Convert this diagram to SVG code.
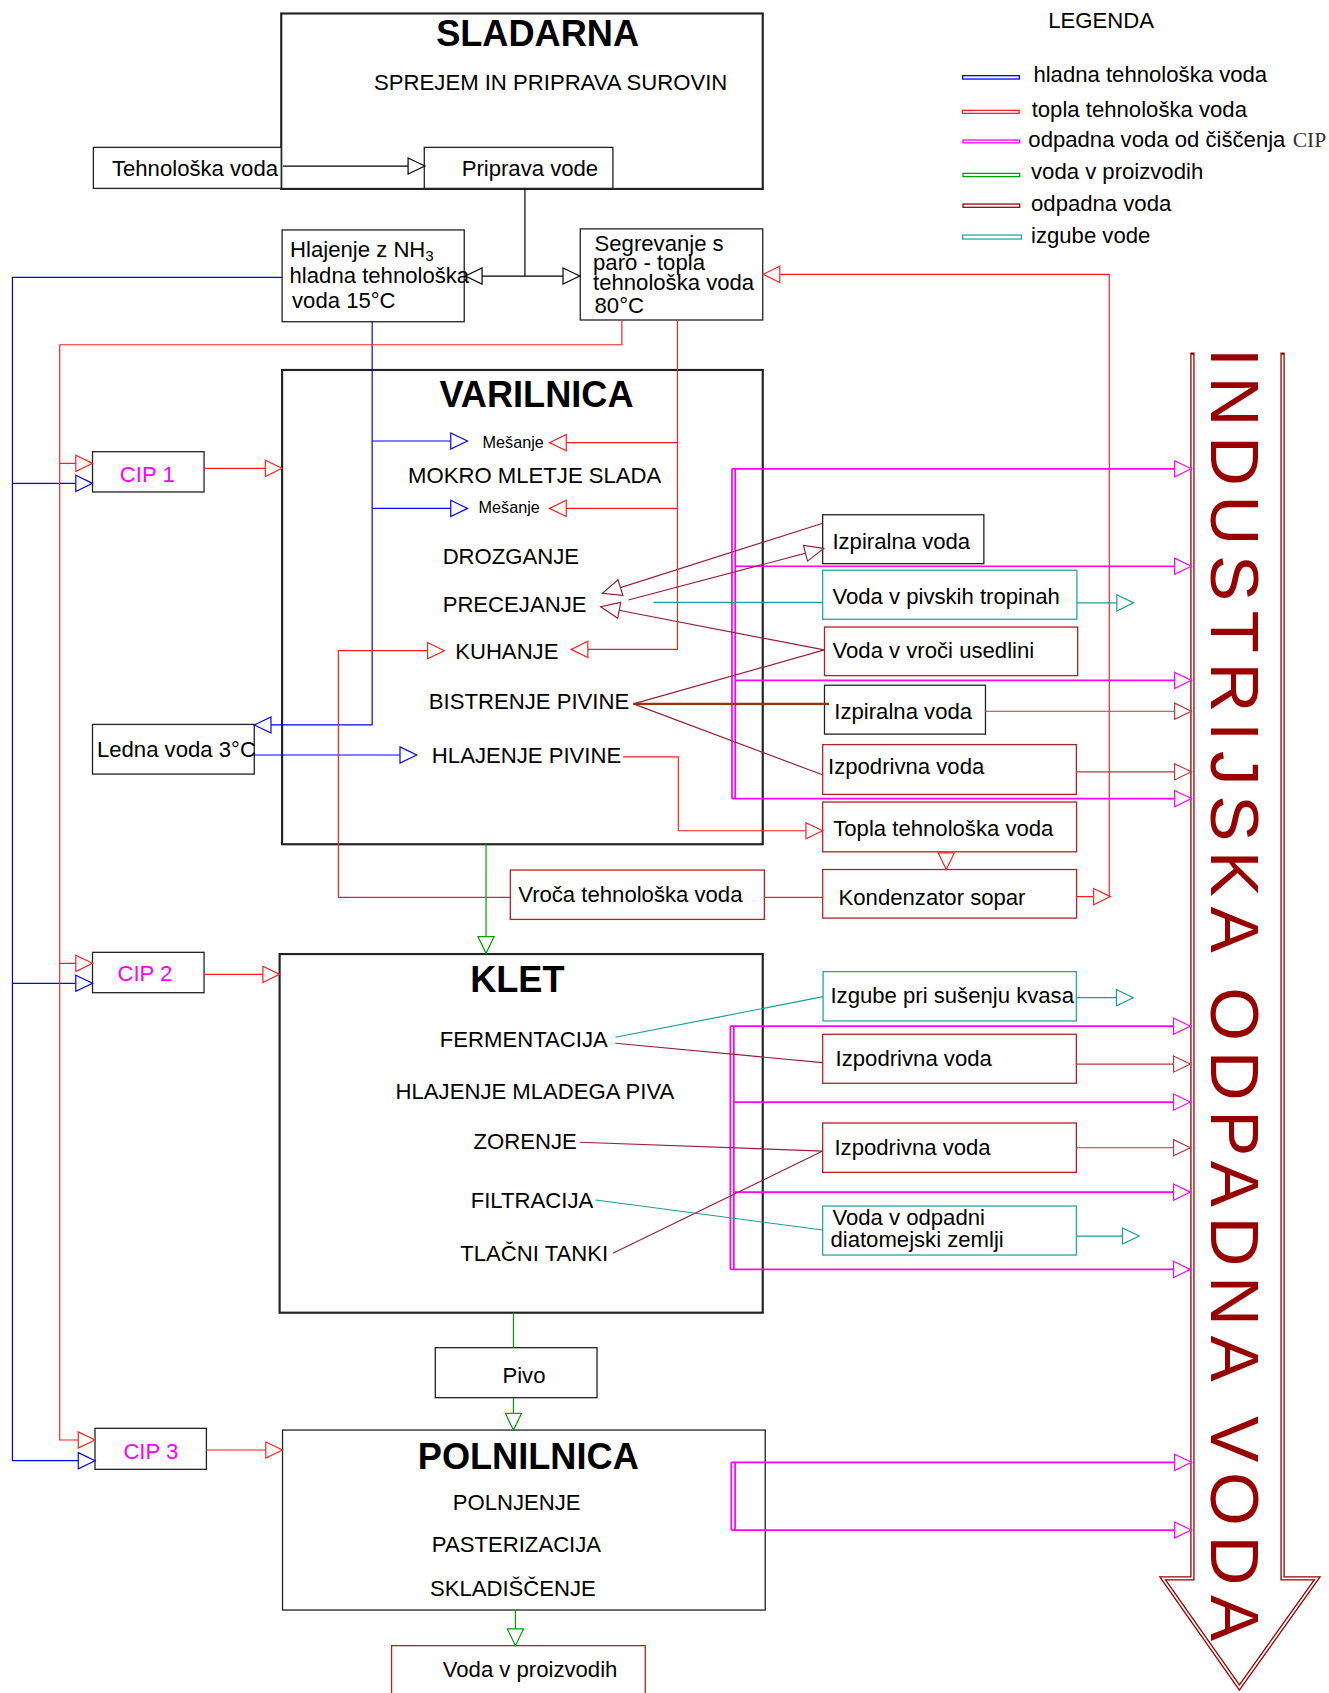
<svg xmlns="http://www.w3.org/2000/svg" width="1329" height="1693" viewBox="0 0 1329 1693">
<style>
.t{font-family:"Liberation Sans",Arial,sans-serif;font-size:20.5px;fill:#000}
.tb{font-weight:bold;font-size:33.5px}
.ts{font-size:15px}
.cip{fill:#ff00ff}
.box{fill:#fff;stroke:#222;stroke-width:1.2}
.bm{stroke-width:2}
.br{stroke:#b22222}
.bt{stroke:#2aa5a5}
.l{fill:none;stroke-width:1.1}
.blue{stroke:#0000ff}
.red{stroke:#ff2020}
.mag{stroke:#ff00ff;stroke-width:1.6}
.grn{stroke:#00a000}
.dr{stroke:#99203a}
.dr2{stroke:#b83a3a}
.tl{stroke:#1a9e9e}
.blk{stroke:#000}
.brn{stroke:#993300;stroke-width:2}
.leg{fill:#fff;stroke-width:1.2}
</style>
<defs>
<marker id="ak" markerUnits="userSpaceOnUse" markerWidth="18" markerHeight="18" refX="16" refY="8" orient="auto-start-reverse" overflow="visible"><path d="M0.5,0.5 L16,8 L0.5,15.5 Z" fill="#fff" stroke="#000" stroke-width="1.1"/></marker>
<marker id="ab" markerUnits="userSpaceOnUse" markerWidth="18" markerHeight="18" refX="16" refY="8" orient="auto" overflow="visible"><path d="M0.5,0.5 L16,8 L0.5,15.5 Z" fill="#fff" stroke="#0000ff" stroke-width="1.1"/></marker>
<marker id="ar" markerUnits="userSpaceOnUse" markerWidth="18" markerHeight="18" refX="16" refY="8" orient="auto" overflow="visible"><path d="M0.5,0.5 L16,8 L0.5,15.5 Z" fill="#fff" stroke="#ff2020" stroke-width="1.1"/></marker>
<marker id="ag" markerUnits="userSpaceOnUse" markerWidth="18" markerHeight="18" refX="16" refY="8" orient="auto" overflow="visible"><path d="M0.5,0.5 L16,8 L0.5,15.5 Z" fill="#fff" stroke="#00a000" stroke-width="1.1"/></marker>
<marker id="am" markerUnits="userSpaceOnUse" markerWidth="18" markerHeight="18" refX="16" refY="8" orient="auto" overflow="visible"><path d="M0.5,0.5 L16,8 L0.5,15.5 Z" fill="#fff" stroke="#ff00ff" stroke-width="1.1"/></marker>
<marker id="ad" markerUnits="userSpaceOnUse" markerWidth="20" markerHeight="18" refX="18" refY="8" orient="auto" overflow="visible"><path d="M0.5,0.5 L18,8 L0.5,15.5 Z" fill="#fff" stroke="#99203a" stroke-width="1.1"/></marker>
<marker id="ad2" markerUnits="userSpaceOnUse" markerWidth="18" markerHeight="18" refX="16" refY="8" orient="auto" overflow="visible"><path d="M0.5,0.5 L16,8 L0.5,15.5 Z" fill="#fff" stroke="#b83a3a" stroke-width="1.1"/></marker>
<marker id="at" markerUnits="userSpaceOnUse" markerWidth="18" markerHeight="18" refX="16" refY="8" orient="auto" overflow="visible"><path d="M0.5,0.5 L16,8 L0.5,15.5 Z" fill="#fff" stroke="#1a9e9e" stroke-width="1.1"/></marker>
</defs>
<rect width="1329" height="1693" fill="#fff"/>
<g transform="scale(1.07961)">

<g id="sladarna"><rect class="box bm" x="260.5" y="12.5" width="446" height="162.5"/>
<text class="t tb" x="404" y="43">SLADARNA</text>
<text class="t" x="346.5" y="83.5">SPREJEM IN PRIPRAVA SUROVIN</text></g>
<g id="tehnoloska-voda"><rect class="box" x="86.5" y="136.5" width="174" height="38"/><text class="t" x="103.7" y="163">Tehnološka voda</text></g>
<g id="priprava-vode"><rect class="box" x="393" y="136.5" width="174.7" height="38"/><text class="t" x="427.6" y="163">Priprava vode</text></g>
<g id="hlajenje-nh3"><rect class="box" x="261.3" y="213" width="168.7" height="85"/>
<text class="t" x="268.7" y="237.7">Hlajenje z NH<tspan font-size="14" dy="4">3</tspan></text>
<text class="t" x="268.2" y="262.5">hladna tehnološka</text>
<text class="t" x="270.5" y="285.6">voda 15°C</text></g>
<g id="segrevanje"><rect class="box" x="537.5" y="212" width="169" height="84.4"/>
<text class="t" x="550.7" y="232.2">Segrevanje s</text>
<text class="t" x="549.3" y="250">paro - topla</text>
<text class="t" x="549.3" y="268.6">tehnološka voda</text>
<text class="t" x="550.7" y="290.2">80°C</text></g>

<g id="legenda">
<text class="t" x="971" y="26.2">LEGENDA</text>
<rect class="leg" x="891.7" y="70.1" width="52.5" height="3.1" stroke="#0000ff"/>
<text class="t" x="957.2" y="75.7">hladna tehnološka voda</text>
<rect class="leg" x="891.4" y="102.2" width="52.6" height="2.8" stroke="#ff2020"/>
<text class="t" x="955.6" y="108.1">topla tehnološka voda</text>
<rect class="leg" x="892" y="129.7" width="52.5" height="2.6" stroke="#ff00ff"/>
<text class="t" x="952.5" y="135.9">odpadna voda od čiščenja</text>
<text x="1197.4" y="136" font-family="'Liberation Serif','Times New Roman',serif" font-size="20" fill="#333">CIP</text>
<rect class="leg" x="892" y="160.6" width="52.5" height="3" stroke="#00a000"/>
<text class="t" x="955" y="166.1">voda v proizvodih</text>
<rect class="leg" x="892" y="189" width="52.5" height="3" stroke="#990000"/>
<text class="t" x="955" y="195.2">odpadna voda</text>
<rect class="leg" x="891.7" y="217.7" width="54.4" height="3.7" stroke="#2aa5a5"/>
<text class="t" x="955" y="224.8">izgube vode</text>
</g>

<g id="varilnica"><rect class="box bm" x="261.3" y="342.7" width="445.2" height="439.3"/>
<text class="t tb" x="407" y="376.7">VARILNICA</text>
<text class="t ts" x="447" y="415">Mešanje</text>
<text class="t" x="378" y="447">MOKRO MLETJE SLADA</text>
<text class="t ts" x="443.3" y="475">Mešanje</text>
<text class="t" x="410" y="522.4">DROZGANJE</text>
<text class="t" x="410" y="566.6">PRECEJANJE</text>
<text class="t" x="421.6" y="610.7">KUHANJE</text>
<text class="t" x="397.2" y="657">BISTRENJE PIVINE</text>
<text class="t" x="400" y="707">HLAJENJE PIVINE</text></g>

<g id="cip1"><rect class="box" x="85.7" y="418.4" width="103.3" height="37.3"/><text class="t cip" x="111" y="446">CIP 1</text></g>
<g id="ledna-voda"><rect class="box" x="85.7" y="671" width="149.8" height="46"/><text class="t" x="89.8" y="701.5">Ledna voda 3°C</text></g>
<g id="cip2"><rect class="box" x="85.7" y="882.1" width="103.3" height="37.4"/><text class="t cip" x="108.8" y="908.4">CIP 2</text></g>
<g id="cip3"><rect class="box" x="88" y="1323" width="103.2" height="38"/><text class="t cip" x="114.3" y="1351.4">CIP 3</text></g>

<g id="izpiralna-voda-1"><rect class="box" x="762" y="476.8" width="149.3" height="45.3"/><text class="t" x="771" y="508.7">Izpiralna voda</text></g>
<g id="voda-pivske-tropine"><rect class="box bt" x="762" y="528.2" width="235.5" height="45.4"/><text class="t" x="771" y="559.5">Voda v pivskih tropinah</text></g>
<g id="voda-vroca-usedlina"><rect class="box br" x="763.7" y="580.8" width="234.5" height="45"/><text class="t" x="771.1" y="609.1">Voda v vroči usedlini</text></g>
<g id="izpiralna-voda-2"><rect class="box" x="763.7" y="634.7" width="149.1" height="45.3"/><text class="t" x="772.8" y="665.9">Izpiralna voda</text></g>
<g id="izpodrivna-voda-1"><rect class="box br" x="762" y="689.7" width="235" height="46.1"/><text class="t" x="767" y="717.3">Izpodrivna voda</text></g>
<g id="topla-tehnoloska-voda"><rect class="box br" x="762" y="742.9" width="235.2" height="46.1"/><text class="t" x="771.8" y="774">Topla tehnološka voda</text></g>
<g id="kondenzator-sopar"><rect class="box br" x="762" y="805.4" width="235.2" height="45"/><text class="t" x="776.7" y="838">Kondenzator sopar</text></g>
<g id="vroca-tehnoloska-voda"><rect class="box br" x="472.7" y="805.9" width="235.3" height="45.7"/><text class="t" x="480" y="835.2">Vroča tehnološka voda</text></g>

<g id="klet"><rect class="box bm" x="259" y="883.7" width="447.5" height="332.2"/>
<text class="t tb" x="435.5" y="918.6">KLET</text>
<text class="t" x="407.4" y="969.5">FERMENTACIJA</text>
<text class="t" x="366.4" y="1018.3">HLAJENJE MLADEGA PIVA</text>
<text class="t" x="438.7" y="1064.6">ZORENJE</text>
<text class="t" x="436" y="1119.3">FILTRACIJA</text>
<text class="t" x="426.3" y="1167.7">TLAČNI TANKI</text></g>

<g id="izgube-kvas"><rect class="box bt" x="762.4" y="900" width="234.6" height="45.7"/><text class="t" x="769.2" y="928.7">Izgube pri sušenju kvasa</text></g>
<g id="izpodrivna-voda-2"><rect class="box br" x="762" y="958" width="235" height="45.4"/><text class="t" x="774" y="987.1">Izpodrivna voda</text></g>
<g id="izpodrivna-voda-3"><rect class="box br" x="762" y="1040.2" width="235" height="45.7"/><text class="t" x="772.9" y="1069.8">Izpodrivna voda</text></g>
<g id="voda-diatomejska"><rect class="box bt" x="762" y="1117.1" width="235" height="45.4"/>
<text class="t" x="771" y="1134.7">Voda v odpadni</text>
<text class="t" x="769.2" y="1155.4">diatomejski zemlji</text></g>

<g id="pivo"><rect class="box" x="403.2" y="1248.3" width="149.8" height="46.3"/><text class="t" x="465.4" y="1280.7">Pivo</text></g>
<g id="polnilnica"><rect class="box" x="261.7" y="1324.6" width="447.1" height="166.7"/>
<text class="t tb" x="387" y="1360.7">POLNILNICA</text>
<text class="t" x="419.3" y="1398.7">POLNJENJE</text>
<text class="t" x="400" y="1437.3">PASTERIZACIJA</text>
<text class="t" x="398.2" y="1478">SKLADIŠČENJE</text></g>
<g id="voda-v-proizvodih"><rect class="box br" x="362.7" y="1524.3" width="235" height="70"/><text class="t" x="410.1" y="1553.7">Voda v proizvodih</text></g>

<g id="industrijska-odpadna-voda">
<path d="M1104.5,328.5 V1462 H1077 L1148,1563 L1220,1462 H1188 V328.5" fill="none" stroke="#990000" stroke-width="4" stroke-linecap="square"/>
<path d="M1104.5,328.5 V1462 H1077 L1148,1563 L1220,1462 H1188 V328.5" fill="none" stroke="#fff" stroke-width="1.6"/>
<text transform="translate(1122,322) rotate(90)" x="0" y="0" font-family="'Liberation Sans',Arial,sans-serif" font-size="64" fill="#990000" textLength="1198" lengthAdjust="spacing">INDUSTRIJSKA ODPADNA VODA</text>
</g>

<g id="connectors">
<path class="l blk" d="M262,153.8 H393.5" marker-end="url(#ak)"/>
<path class="l blk" d="M486.2,174.5 V255.7"/>
<path class="l blk" d="M431,255.7 H537" marker-start="url(#ak)" marker-end="url(#ak)"/>

<path class="l blue" d="M261.3,256.9 H11.5 V1353 H88" marker-end="url(#ab)"/>
<path class="l blue" d="M11.5,447.7 H85.7" marker-end="url(#ab)"/>
<path class="l blue" d="M11.5,910.8 H85.7" marker-end="url(#ab)"/>
<path class="l blue" d="M344.7,298 V671.5 H235.5" marker-end="url(#ab)"/>
<path class="l blue" d="M344.7,408.5 H433" marker-end="url(#ab)"/>
<path class="l blue" d="M344.7,470.9 H433" marker-end="url(#ab)"/>
<path class="l blue" d="M235.5,699.3 H386" marker-end="url(#ab)"/>

<path class="l red" d="M576,296.4 V319.3 H55.3 V1333.8 H88" marker-end="url(#ar)"/>
<path class="l red" d="M55.3,429.2 H85.7" marker-end="url(#ar)"/>
<path class="l red" d="M55.3,892.3 H85.7" marker-end="url(#ar)"/>
<path class="l red" d="M189,433.8 H261.3" marker-end="url(#ar)"/>
<path class="l red" d="M189,902.5 H259" marker-end="url(#ar)"/>
<path class="l red" d="M191.2,1343.1 H261.7" marker-end="url(#ar)"/>
<path class="l red" d="M627.5,296.4 V601.5 H529" marker-end="url(#ar)"/>
<path class="l red" d="M627.5,410 H509" marker-end="url(#ar)"/>
<path class="l red" d="M627.5,470.9 H509" marker-end="url(#ar)"/>
<path class="l red" d="M577,701 H628.3 V769.5 H762" marker-end="url(#ar)"/>
<path class="l red" d="M472.7,831.2 H313.4 V602.7 H411.5" marker-end="url(#ar)"/>
<path class="l red" d="M708,831.2 H762"/>
<path class="l red" d="M997.2,830.5 H1028.5" marker-end="url(#ar)"/>
<path class="l red" d="M1027.5,830.5 V254.1 H706.8" marker-end="url(#ar)"/>
<path class="l red" d="M876.5,789 V805.4" marker-end="url(#ar)"/>

<path class="l grn" d="M450.2,782 V883" marker-end="url(#ag)"/>
<path class="l grn" d="M475.6,1216 V1248.3"/>
<path class="l grn" d="M475.6,1294.6 V1324.6" marker-end="url(#ag)"/>
<path class="l grn" d="M477.4,1491.3 V1524.3" marker-end="url(#ag)"/>

<path class="l mag" d="M678,434.2 V739.7"/>
<path class="l mag" d="M681,434.2 V739.7" stroke-width="1.1"/>
<path class="l mag" d="M678,434.2 H1103.5" marker-end="url(#am)"/>
<path class="l mag" d="M681,524.5 H1103.5" marker-end="url(#am)"/>
<path class="l mag" d="M681,630.2 H1103.5" marker-end="url(#am)"/>
<path class="l mag" d="M678,739.7 H1103.5" marker-end="url(#am)"/>
<path class="l mag" d="M676.5,950.5 V1175.8"/>
<path class="l mag" d="M679.7,950.5 V1175.8" stroke-width="1.1"/>
<path class="l mag" d="M676.5,950.5 H1102.5" marker-end="url(#am)"/>
<path class="l mag" d="M679.7,1020.8 H1102.5" marker-end="url(#am)"/>
<path class="l mag" d="M679.7,1104.2 H1102.5" marker-end="url(#am)"/>
<path class="l mag" d="M676.5,1175.8 H1102.5" marker-end="url(#am)"/>
<path class="l mag" d="M677.4,1354.5 V1417.2"/>
<path class="l mag" d="M680.9,1354.5 V1417.2" stroke-width="1.1"/>
<path class="l mag" d="M677.4,1354.5 H1103.5" marker-end="url(#am)"/>
<path class="l mag" d="M677.4,1417.2 H1103.5" marker-end="url(#am)"/>

<path class="l dr" d="M762,484.7 L558,549.6" marker-end="url(#ad)"/>
<path class="l dr" d="M582,555.8 L763,508" marker-end="url(#ad)"/>
<path class="l dr" d="M763.5,602 L556.4,562" marker-end="url(#ad)"/>
<path class="l dr" d="M586.7,652 L763.5,602"/>
<path class="l brn" d="M586.7,652 H767.8"/>
<path class="l dr" d="M586.7,652 L762.4,717.9"/>
<path class="l dr2" d="M912.8,658.8 H1103.5" marker-end="url(#ad2)"/>
<path class="l dr2" d="M997,714.9 H1103.5" stroke-width="1.5" marker-end="url(#ad2)"/>
<path class="l dr" d="M570,966.3 L762,984.3"/>
<path class="l dr" d="M537,1058 L762,1066.2"/>
<path class="l dr" d="M567.7,1160.9 L762,1066.2"/>
<path class="l dr2" d="M997,985.6 H1102.5" stroke-width="1.5" marker-end="url(#ad2)"/>
<path class="l dr2" d="M997,1063.1 H1102.5" marker-end="url(#ad2)"/>

<path class="l tl" d="M605.2,558 H762"/>
<path class="l tl" d="M997.5,558.4 H1050" marker-end="url(#at)"/>
<path class="l tl" d="M570,960.8 L762.4,923.2"/>
<path class="l tl" d="M997,924.1 H1049.6" marker-end="url(#at)"/>
<path class="l tl" d="M551.6,1111.5 L762,1139.3"/>
<path class="l tl" d="M997,1144.9 H1055.2" marker-end="url(#at)"/>
</g>
</g>
</svg>
